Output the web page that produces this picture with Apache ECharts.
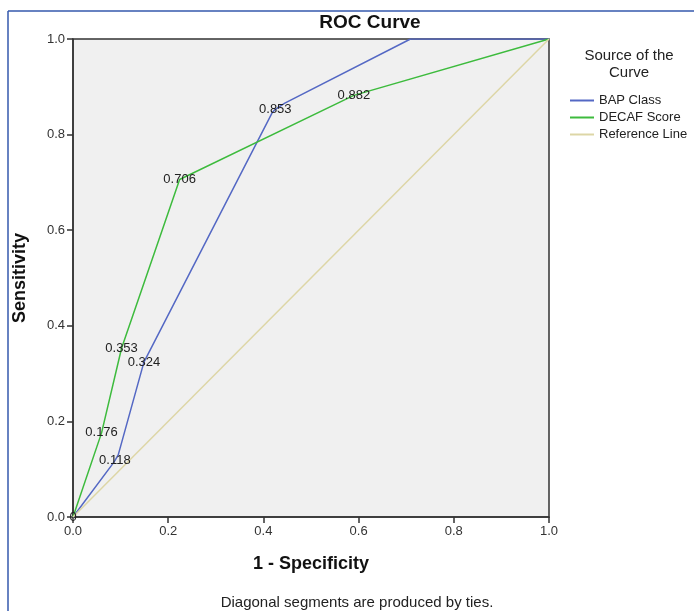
<!DOCTYPE html>
<html>
<head>
<meta charset="utf-8">
<title>ROC Curve</title>
<script src="https://cdn.jsdelivr.net/npm/echarts@6/dist/echarts.min.js"></script>
<style>
  html, body { margin: 0; padding: 0; background: #fff; }
  #chart { width: 694px; height: 611px; }
</style>
</head>
<body>
<div id="chart"></div>
<script>
// values
var ticks = [0, 0.2, 0.4, 0.6, 0.8, 1.0];

var bapX = [0, 0.081, 0.088, 0.095, 0.149, 0.418, 0.425, 0.445, 0.709, 1.0];
var bapY = [0, 0.108, 0.118, 0.13, 0.324, 0.845, 0.853, 0.866, 1.0, 1.0];
var bapLab = ["", "", "0.118", "", "0.324", "", "0.853", "", "", ""];

var decafX = [0, 0.06, 0.102, 0.224, 0.59, 1.0];
var decafY = [0, 0.176, 0.353, 0.706, 0.882, 1.0];
var decafLab = ["0", "0.176", "0.353", "0.706", "0.882", ""];

var refX = [0, 1];
var refY = [0, 1];

var fontFam = "'Liberation Sans', Arial, sans-serif";

function buildData(xs, ys, labs) {
  let out = [];
  xs.forEach((x, i) => {
    let lab = labs ? labs[i] : "";
    if (lab) {
      out.push({
        value: [x, ys[i]],
        label: { show: true, formatter: lab }
      });
    } else {
      out.push([x, ys[i]]);
    }
  });
  return out;
}

function lineSeries(name, color, data) {
  return {
    name: name,
    type: "line",
    data: data,
    symbol: "circle",
    symbolSize: 0,
    showSymbol: true,
    color: color,
    lineStyle: { color: color, width: 1.5 },
    label: {
      show: false,
      position: "inside",
      color: "#222",
      fontSize: 13,
      fontFamily: fontFam
    },
    emphasis: { disabled: true },
    animation: false
  };
}

var option = {
  backgroundColor: "#fff",
  grid: {
    left: 73,
    right: 145,
    top: 39,
    bottom: 94,
    show: true,
    backgroundColor: "#f0f0f0",
    borderColor: "#333",
    borderWidth: 1.5
  },
  xAxis: {
    type: "value",
    min: 0,
    max: 1,
    interval: 0.2,
    name: "1 - Specificity",
    nameLocation: "middle",
    nameGap: 38,
    nameTextStyle: { fontSize: 18, fontWeight: "bold", color: "#111", fontFamily: fontFam },
    axisLine: { show: true, lineStyle: { color: "#333", width: 1.5 } },
    axisTick: { show: true, length: 6, lineStyle: { color: "#333", width: 1.5 } },
    axisLabel: {
      color: "#333",
      fontSize: 13,
      fontFamily: fontFam,
      formatter: (v) => v.toFixed(1)
    },
    splitLine: { show: false }
  },
  yAxis: {
    type: "value",
    min: 0,
    max: 1,
    interval: 0.2,
    name: "Sensitivity",
    nameLocation: "middle",
    nameGap: 44,
    nameTextStyle: { fontSize: 18, fontWeight: "bold", color: "#111", fontFamily: fontFam },
    axisLine: { show: true, lineStyle: { color: "#333", width: 1.5 } },
    axisTick: { show: true, length: 6, lineStyle: { color: "#333", width: 1.5 } },
    axisLabel: {
      color: "#333",
      fontSize: 13,
      fontFamily: fontFam,
      margin: 8,
      formatter: (v) => v.toFixed(1)
    },
    splitLine: { show: false }
  },
  legend: {
    orient: "vertical",
    left: 565,
    top: 89,
    icon: "rect",
    itemWidth: 24,
    itemHeight: 2,
    itemGap: 4,
    textStyle: { color: "#222", fontSize: 13, fontFamily: fontFam },
    data: ["BAP Class", "DECAF Score", "Reference Line"]
  },
  graphic: [
    { type: "line", shape: { x1: 8, y1: 11, x2: 8, y2: 611 }, style: { stroke: "#3559ad", lineWidth: 1.5 } },
    { type: "line", shape: { x1: 8, y1: 11, x2: 694, y2: 11 }, style: { stroke: "#3559ad", lineWidth: 1.5 } },
    {
      type: "text", x: 370, y: 23,
      style: { text: "ROC Curve", textAlign: "center", textVerticalAlign: "middle",
        font: "bold 19px " + fontFam, fill: "#111" }
    },
    {
      type: "text", x: 629, y: 64,
      style: { text: "Source of the\nCurve", textAlign: "center", textVerticalAlign: "middle",
        font: "15px " + fontFam, fill: "#222", lineHeight: 17 }
    },
    {
      type: "text", x: 357, y: 603,
      style: { text: "Diagonal segments are produced by ties.", textAlign: "center", textVerticalAlign: "middle",
        font: "15px " + fontFam, fill: "#222" }
    }
  ],
  series: [
    lineSeries("BAP Class", "#5468c4", buildData(bapX, bapY, bapLab)),
    lineSeries("DECAF Score", "#3dbb3d", buildData(decafX, decafY, decafLab)),
    lineSeries("Reference Line", "#ddd6a6", buildData(refX, refY, null))
  ]
};

var myChart = echarts.init(document.getElementById("chart"), null, { renderer: "canvas" });
myChart.setOption(option, true);
window.onresize = myChart.resize;
</script>
</body>
</html>
